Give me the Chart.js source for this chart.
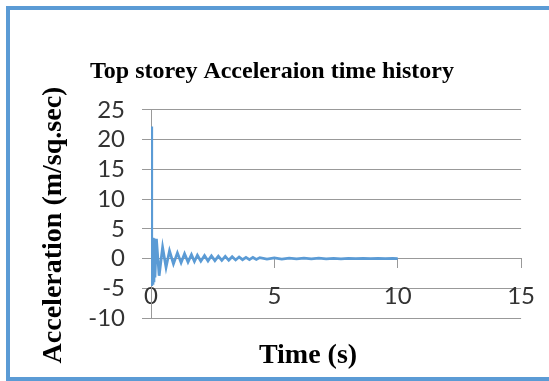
<!DOCTYPE html>
<html>
<head>
<meta charset="utf-8">
<script src="https://cdn.jsdelivr.net/npm/chart.js@4/dist/chart.umd.min.js"></script>
<style>
  html, body { margin: 0; padding: 0; background: #ffffff; overflow: hidden; }
  #wrap { position: absolute; left: 0; top: 0; width: 549px; height: 381px; }
  #frame { position: absolute; left: 6px; top: 6px; width: 600px; height: 375px; box-sizing: border-box;
           border: 4px solid #5B9BD5; pointer-events: none; }
  canvas { position: absolute; left: 0; top: 0; }
</style>
</head>
<body>
<div id="wrap">
  <canvas id="c" width="549" height="381"></canvas>
  <div id="frame"></div>
</div>
<script>
// ---- chart data ----
const chartTitle = "Top storey Acceleraion time history";
const xAxisTitle = "Time (s)";
const yAxisTitle = "Acceleration (m/sq.sec)";

const timeSec = [0, 0.02, 0.04, 0.06, 0.08, 0.10, 0.12, 0.14, 0.16,
  0.22, 0.33, 0.47, 0.61, 0.75, 0.91, 1.07, 1.22, 1.36, 1.50,
  1.64, 1.76, 1.88, 2.02, 2.17, 2.31, 2.45, 2.59, 2.73, 2.87,
  3.01, 3.15, 3.29, 3.43, 3.57, 3.71, 3.85, 3.99, 4.13, 4.27,
  4.41, 4.7, 5.0, 5.3, 5.6, 5.9, 6.2, 6.5, 6.8, 7.1,
  7.4, 7.7, 8.0, 8.3, 8.6, 8.9, 9.2, 9.5, 9.8, 10.0];

const acceleration = [0, 22.2, -4.6, 3.5, -4.4, 3.4, -4.0, 3.3, -3.2,
  3.3, -2.9, 1.9, -1.5, 1.3, -0.9, 0.95, -0.7, 0.8, -0.6,
  0.65, -0.5, 0.55, -0.45, 0.5, -0.4, 0.45, -0.35, 0.4, -0.3,
  0.35, -0.3, 0.3, -0.25, 0.25, -0.2, 0.2, -0.18, 0.18, -0.15,
  0.15, -0.1, 0.1, -0.08, 0.08, -0.06, 0.06, -0.05, 0.05, -0.04,
  0.04, -0.04, 0.04, -0.03, 0.03, -0.03, 0.03, -0.03, 0.03, 0];

const xTickValues = [0, 5, 10, 15];
const yTickValues = [-10, -5, 0, 5, 10, 15, 20, 25];

// ---- build chart ----
const points = timeSec.map((t, i) => ({ x: t, y: acceleration[i] }));

const axisTitles = {
  id: 'axisTitles',
  afterDraw(chart) {
    const ctx = chart.ctx;
    ctx.save();
    ctx.fillStyle = '#000000';
    ctx.font = 'bold 28px "Liberation Serif", "Times New Roman", serif';
    ctx.textAlign = 'center';
    ctx.textBaseline = 'alphabetic';
    ctx.fillText(xAxisTitle, 308, 363);
    ctx.translate(61, 225);
    ctx.rotate(-Math.PI / 2);
    ctx.fillText(yAxisTitle, 0, 0);
    ctx.restore();
  }
};

new Chart(document.getElementById('c'), {
  type: 'scatter',
  data: {
    datasets: [{
      data: points,
      showLine: true,
      borderColor: '#5B9BD5',
      backgroundColor: '#5B9BD5',
      borderWidth: 2.75,
      pointRadius: 0,
      tension: 0
    }]
  },
  options: {
    responsive: false,
    animation: false,
    devicePixelRatio: 1,
    layout: { padding: { left: 22, right: 27, top: 0, bottom: 63 } },
    plugins: {
      legend: { display: false },
      tooltip: { enabled: false },
      title: {
        display: true,
        text: chartTitle,
        color: '#000000',
        font: { family: '"Liberation Serif", "Times New Roman", serif', size: 24, weight: 'bold', lineHeight: 1.2 },
        padding: { top: 57, bottom: 24 }
      }
    },
    scales: {
      x: {
        type: 'linear',
        position: { y: 0 },
        min: 0, max: 15,
        afterBuildTicks(scale) { scale.ticks = xTickValues.map(v => ({ value: v })); },
        grid: { display: true, drawOnChartArea: false, drawTicks: true, tickLength: 9, color: '#999999', lineWidth: 1 },
        border: { display: true, color: '#999999', width: 1 },
        ticks: { color: '#333333', padding: 14, maxRotation: 0, autoSkip: false,
                 font: { family: 'Lato, "Open Sans", sans-serif', size: 24 } }
      },
      y: {
        type: 'linear',
        position: 'left',
        min: -10, max: 25,
        afterBuildTicks(scale) { scale.ticks = yTickValues.map(v => ({ value: v })); },
        afterFit(scale) { scale.width = 129; },
        grid: { display: true, drawOnChartArea: true, drawTicks: true, tickLength: 9, color: '#999999', lineWidth: 1 },
        border: { display: true, color: '#999999', width: 1 },
        ticks: { color: '#333333', padding: 17, autoSkip: false,
                 font: { family: 'Lato, "Open Sans", sans-serif', size: 24 } }
      }
    }
  },
  plugins: [axisTitles]
});
</script>
</body>
</html>
